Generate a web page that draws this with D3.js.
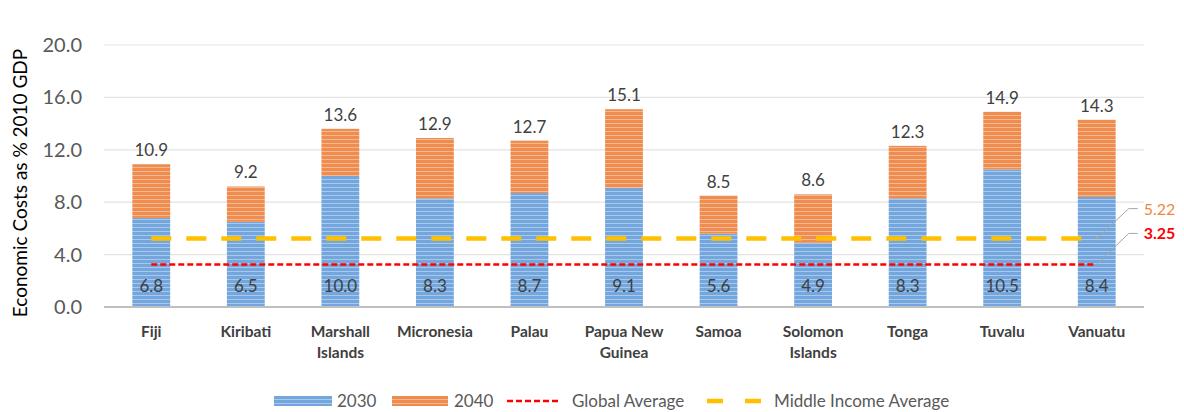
<!DOCTYPE html>
<html>
<head>
<meta charset="utf-8">
<script src="https://cdn.jsdelivr.net/npm/d3@7"></script>
<style>
  body { margin: 0; background: #fff; }
  text { font-family: Lato, "Open Sans", sans-serif; }
</style>
</head>
<body>
<div id="chart"></div>
<script>
// data
var countries = [["Fiji"], ["Kiribati"], ["Marshall", "Islands"], ["Micronesia"], ["Palau"],
    ["Papua New", "Guinea"], ["Samoa"], ["Solomon", "Islands"], ["Tonga"], ["Tuvalu"], ["Vanuatu"]];
var cost2030 = [6.8, 6.5, 10.0, 8.3, 8.7, 9.1, 5.6, 4.9, 8.3, 10.5, 8.4];
var cost2040 = [10.9, 9.2, 13.6, 12.9, 12.7, 15.1, 8.5, 8.6, 12.3, 14.9, 14.3];
var yTicks = [0, 4, 8, 12, 16, 20];
var globalAvg = 3.25;
var middleAvg = 5.22;

var W = 1184, H = 412;
var margin = {top: 45, right: 40, bottom: 105, left: 104};
var width = W - margin.left - margin.right;
var height = H - margin.top - margin.bottom;

var root = d3.select("#chart").append("svg")
    .attr("width", W).attr("height", H);

// striped fills
var defs = root.append("defs");
function stripes(id, base, light) {
    var p = defs.append("pattern").attr("id", id)
        .attr("patternUnits", "userSpaceOnUse").attr("width", 8).attr("height", 4);
    p.append("rect").attr("width", 8).attr("height", 4).attr("fill", base);
    p.append("rect").attr("y", 2).attr("width", 8).attr("height", 1).attr("fill", light);
}
stripes("blueStripe", "#72a6dc", "#a9c8ec");
stripes("orangeStripe", "#ee8d4f", "#f6b88f");

var svg = root.append("g").attr("transform", `translate(${margin.left},${margin.top})`);

var xScale = d3.scaleBand()
    .domain(d3.range(countries.length))
    .range([0, width])
    .paddingInner(0.6).paddingOuter(0.3);

var yScale = d3.scaleLinear().domain([0, 20]).range([height, 0]);

// gridlines
svg.selectAll(".grid").data(yTicks.slice(1)).enter()
    .append("line")
    .attr("x1", 0).attr("x2", width)
    .attr("y1", d => yScale(d)).attr("y2", d => yScale(d))
    .attr("stroke", "#e3e3e3").attr("stroke-width", 1.2);

// y axis labels
var yAxis = d3.axisLeft(yScale).tickValues(yTicks).tickFormat(d3.format(".1f")).tickSize(0).tickPadding(22);
var ya = svg.append("g").call(yAxis);
ya.select(".domain").remove();
ya.selectAll("text").attr("font-size", 20).attr("fill", "#595959")
    .style("font-family", "Lato, sans-serif");

// bars
var bw = xScale.bandwidth();
svg.selectAll(".b30").data(cost2030).enter().append("rect")
    .attr("x", (d, i) => xScale(i)).attr("width", bw)
    .attr("y", d => yScale(d)).attr("height", d => height - yScale(d))
    .attr("fill", "url(#blueStripe)");

svg.selectAll(".b40").data(cost2040).enter().append("rect")
    .attr("x", (d, i) => xScale(i)).attr("width", bw)
    .attr("y", d => yScale(d)).attr("height", (d, i) => yScale(cost2030[i]) - yScale(d))
    .attr("fill", "url(#orangeStripe)");

// baseline
svg.append("line").attr("x1", 0).attr("x2", width)
    .attr("y1", height).attr("y2", height)
    .attr("stroke", "#bfbfbf").attr("stroke-width", 2);

// average lines, from first bar centre to last bar centre
var lx1 = xScale(0) + bw / 2, lx2 = xScale(countries.length - 1) + bw / 2;
svg.append("line").attr("x1", lx1).attr("x2", lx2)
    .attr("y1", yScale(middleAvg)).attr("y2", yScale(middleAvg))
    .attr("stroke", "#ffc000").attr("stroke-width", 4.5)
    .attr("stroke-dasharray", "20,15");
svg.append("line").attr("x1", lx1).attr("x2", lx2 - 3)
    .attr("y1", yScale(globalAvg)).attr("y2", yScale(globalAvg))
    .attr("stroke", "#ff0000").attr("stroke-width", 2.5)
    .attr("stroke-dasharray", "6,3");

// leader lines and value labels on the right
var lab = [
    {v: middleAvg, txt: "5.22", color: "#f0883e", weight: "normal", dy: -30},
    {v: globalAvg, txt: "3.25", color: "#ff0000", weight: "bold", dy: -31}
];
lab.forEach(function(l) {
    var y0 = yScale(l.v), y1 = y0 + l.dy;
    svg.append("path")
        .attr("d", `M${lx2},${y0} L${lx2 + 32},${y1} L${lx2 + 41},${y1}`)
        .attr("fill", "none").attr("stroke", "#a6a6a6").attr("stroke-width", 1);
    svg.append("text").attr("x", lx2 + 47).attr("y", y1 + 6)
        .attr("font-size", 16).attr("font-weight", l.weight)
        .attr("fill", l.color).text(l.txt);
});

// value labels
svg.selectAll(".tot").data(cost2040).enter().append("text")
    .attr("x", (d, i) => xScale(i) + bw / 2).attr("y", d => yScale(d) - 8)
    .attr("text-anchor", "middle").attr("font-size", 17).attr("fill", "#404040")
    .text(d => d.toFixed(1));

svg.selectAll(".v30").data(cost2030).enter().append("text")
    .attr("x", (d, i) => xScale(i) + bw / 2).attr("y", height - 15)
    .attr("text-anchor", "middle").attr("font-size", 17).attr("fill", "#404040")
    .text(d => d.toFixed(1));

// category labels
var cat = svg.selectAll(".cat").data(countries).enter().append("text")
    .attr("text-anchor", "middle").attr("font-size", 15.5).attr("font-weight", "bold")
    .attr("fill", "#404040")
    .attr("transform", (d, i) => `translate(${xScale(i) + bw / 2},${height + 30})`);
cat.selectAll("tspan").data(d => d).enter().append("tspan")
    .attr("x", 0).attr("dy", (d, i) => i === 0 ? 0 : 21).text(d => d);

// y axis title
root.append("text")
    .attr("transform", `translate(27,183) rotate(-90)`)
    .attr("text-anchor", "middle").attr("font-size", 19).attr("fill", "#000")
    .text("Economic Costs as % 2010 GDP");

// legend
var lg = root.append("g").attr("transform", "translate(0,401)");
var legText = {"font-size": 17, "fill": "#595959"};
lg.append("rect").attr("x", 274).attr("y", -5).attr("width", 58).attr("height", 10).attr("fill", "url(#blueStripe)");
lg.append("text").attr("x", 337).attr("y", 6).attr("font-size", 17).attr("fill", "#595959").text("2030");
lg.append("rect").attr("x", 392).attr("y", -5).attr("width", 56).attr("height", 10).attr("fill", "url(#orangeStripe)");
lg.append("text").attr("x", 454).attr("y", 6).attr("font-size", 17).attr("fill", "#595959").text("2040");
lg.append("line").attr("x1", 507).attr("x2", 561).attr("y1", 0).attr("y2", 0)
    .attr("stroke", "#ff0000").attr("stroke-width", 2.5).attr("stroke-dasharray", "6,3");
lg.append("text").attr("x", 572).attr("y", 6).attr("font-size", 17).attr("fill", "#595959").text("Global Average");
lg.append("line").attr("x1", 707).attr("x2", 761).attr("y1", 0).attr("y2", 0)
    .attr("stroke", "#ffc000").attr("stroke-width", 4.5).attr("stroke-dasharray", "16,22");
lg.append("text").attr("x", 774).attr("y", 6).attr("font-size", 17).attr("fill", "#595959").text("Middle Income Average");
</script>
</body>
</html>
